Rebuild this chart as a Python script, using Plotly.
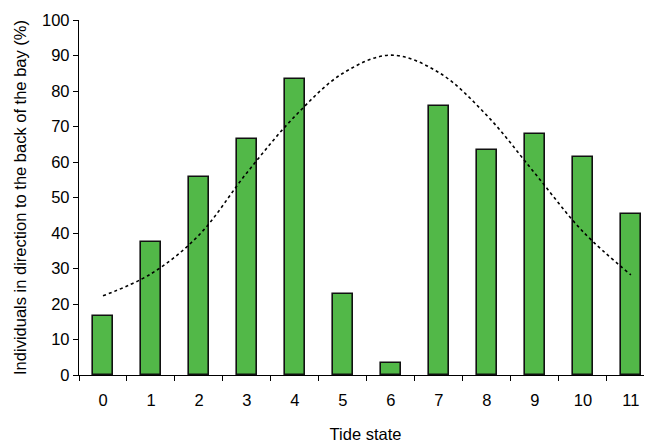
import plotly.graph_objects as go

tide_states = ["0", "1", "2", "3", "4", "5", "6", "7", "8", "9", "10", "11"]
individuals_pct = [16.6, 37.5, 55.9, 66.5, 83.3, 22.8, 3.4, 75.9, 63.5, 67.9, 61.5, 45.3]
fitted_curve = [22.3, 28.5, 39.4, 57.0, 72.9, 85.0, 90.1, 85.2, 73.1, 56.8, 40.4, 28.2]
y_ticks = [0, 10, 20, 30, 40, 50, 60, 70, 80, 90, 100]

font = dict(family="Liberation Sans, Arial, sans-serif", size=16.5, color="#000000")

fig = go.Figure()
fig.add_trace(go.Bar(
    x=tide_states, y=individuals_pct, width=0.41,
    marker=dict(color="#52b848", line=dict(color="#111111", width=1.6)),
    showlegend=False,
))
fig.add_trace(go.Scatter(
    x=tide_states, y=fitted_curve, mode="lines",
    line=dict(color="#000000", width=1.6, dash="dot", shape="spline", smoothing=1.0),
    showlegend=False,
))

# page body has an 8px margin, so the figure is sized to fit the 652x447 window
fig.update_layout(
    width=644, height=439,
    margin=dict(l=71, r=0, t=12, b=72),
    paper_bgcolor="white", plot_bgcolor="white",
    font=font,
    bargap=0,
)
fig.update_xaxes(
    type="category", range=[-0.5, 11.44], automargin=False,
    showline=True, linecolor="#000000", linewidth=1.3,
    ticks="outside", tickson="boundaries", ticklen=5, tickcolor="#000000", tickwidth=1.3,
    ticklabelstandoff=10,
    showgrid=False, zeroline=False,
    title=dict(text="Tide state", font=font, standoff=20),
    tickfont=font,
)
fig.update_yaxes(
    range=[0, 100], tickvals=y_ticks, automargin=False,
    showline=True, linecolor="#000000", linewidth=1.3,
    ticks="outside", ticklen=5, tickcolor="#000000", tickwidth=1.3,
    showgrid=False, zeroline=False,
    title=dict(text="Individuals in direction to the back of the bay (%)", font=font, standoff=11),
    tickfont=font,
)

fig.write_html("out.html")
